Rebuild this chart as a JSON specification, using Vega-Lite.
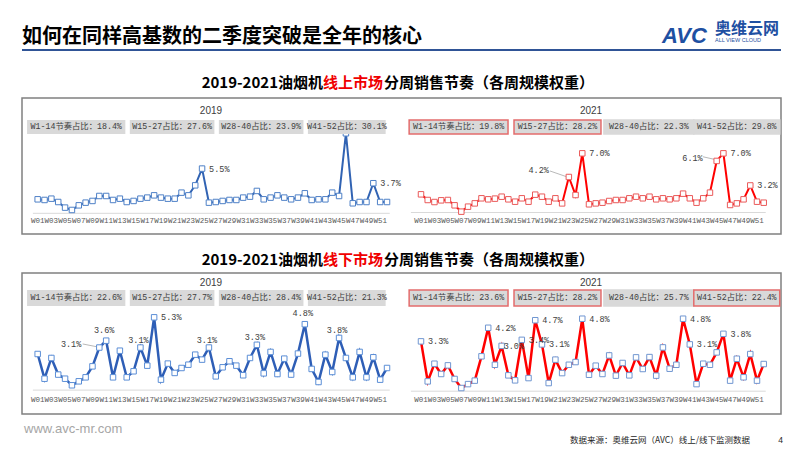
{
 "$schema": "https://vega.github.io/schema/vega-lite/v6.json",
 "padding": {"left": 21, "top": 0, "right": 0, "bottom": 0},
 "background": "white",
 "spacing": 0,
 "config": {"view": {"stroke": null}, "font": "Noto Sans CJK SC", "concat": {"spacing": 0}},
 "datasets": {
  "on19": [{"week":1,"share":1.72},{"week":2,"share":1.64},{"week":3,"share":1.80},{"week":4,"share":1.39},{"week":5,"share":0.70},{"week":6,"share":0.41},{"week":7,"share":0.98},{"week":8,"share":1.31},{"week":9,"share":1.52},{"week":10,"share":2.13},{"week":11,"share":2.13},{"week":12,"share":1.64},{"week":13,"share":1.80},{"week":14,"share":1.39},{"week":15,"share":1.52},{"week":16,"share":1.80},{"week":17,"share":1.93},{"week":18,"share":2.21},{"week":19,"share":1.93},{"week":20,"share":1.80},{"week":21,"share":1.80},{"week":22,"share":2.54},{"week":23,"share":2.21},{"week":24,"share":3.44},{"week":25,"share":5.5},{"week":26,"share":1.31},{"week":27,"share":1.39},{"week":28,"share":1.52},{"week":29,"share":1.64},{"week":30,"share":1.64},{"week":31,"share":1.93},{"week":32,"share":2.05},{"week":33,"share":2.75},{"week":34,"share":1.72},{"week":35,"share":1.93},{"week":36,"share":2.21},{"week":37,"share":1.93},{"week":38,"share":1.72},{"week":39,"share":1.93},{"week":40,"share":2.46},{"week":41,"share":1.64},{"week":42,"share":1.72},{"week":43,"share":1.72},{"week":44,"share":2.54},{"week":45,"share":2.13},{"week":46,"share":9.84},{"week":47,"share":1.23},{"week":48,"share":1.39},{"week":49,"share":1.39},{"week":50,"share":3.7},{"week":51,"share":1.39},{"week":52,"share":1.39}],
  "on21": [{"week":1,"share":2.15},{"week":2,"share":1.48},{"week":3,"share":1.24},{"week":4,"share":1.44},{"week":5,"share":1.48},{"week":6,"share":0.85},{"week":7,"share":0.10},{"week":8,"share":0.69},{"week":9,"share":1.08},{"week":10,"share":1.68},{"week":11,"share":1.56},{"week":12,"share":1.64},{"week":13,"share":1.87},{"week":14,"share":1.56},{"week":15,"share":1.28},{"week":16,"share":1.68},{"week":17,"share":1.28},{"week":18,"share":2.11},{"week":19,"share":1.87},{"week":20,"share":1.28},{"week":21,"share":1.68},{"week":22,"share":1.08},{"week":23,"share":4.2},{"week":24,"share":2.07},{"week":25,"share":7.0},{"week":26,"share":0.97},{"week":27,"share":1.08},{"week":28,"share":1.16},{"week":29,"share":1.36},{"week":30,"share":1.48},{"week":31,"share":1.48},{"week":32,"share":1.68},{"week":33,"share":1.87},{"week":34,"share":1.68},{"week":35,"share":1.87},{"week":36,"share":1.56},{"week":37,"share":1.68},{"week":38,"share":1.56},{"week":39,"share":1.68},{"week":40,"share":2.23},{"week":41,"share":1.68},{"week":42,"share":1.16},{"week":43,"share":1.68},{"week":44,"share":2.35},{"week":45,"share":6.1},{"week":46,"share":7.0},{"week":47,"share":0.89},{"week":48,"share":1.08},{"week":49,"share":1.56},{"week":50,"share":3.2},{"week":51,"share":1.28},{"week":52,"share":1.16}],
  "off19": [{"week":1,"share":2.63},{"week":2,"share":0.83},{"week":3,"share":2.34},{"week":4,"share":1.13},{"week":5,"share":0.83},{"week":6,"share":0.35},{"week":7,"share":0.64},{"week":8,"share":0.93},{"week":9,"share":1.73},{"week":10,"share":3.1},{"week":11,"share":3.6},{"week":12,"share":0.93},{"week":13,"share":2.87},{"week":14,"share":0.93},{"week":15,"share":1.37},{"week":16,"share":3.1},{"week":17,"share":1.78},{"week":18,"share":5.3},{"week":19,"share":0.76},{"week":20,"share":1.93},{"week":21,"share":1.25},{"week":22,"share":1.61},{"week":23,"share":1.85},{"week":24,"share":2.58},{"week":25,"share":2.22},{"week":26,"share":3.1},{"week":27,"share":1.0},{"week":28,"share":1.66},{"week":29,"share":2.1},{"week":30,"share":1.78},{"week":31,"share":1.08},{"week":32,"share":2.34},{"week":33,"share":3.3},{"week":34,"share":1.22},{"week":35,"share":2.78},{"week":36,"share":1.17},{"week":37,"share":2.29},{"week":38,"share":1.13},{"week":39,"share":2.66},{"week":40,"share":4.8},{"week":41,"share":1.54},{"week":42,"share":0.59},{"week":43,"share":2.58},{"week":44,"share":1.32},{"week":45,"share":3.8},{"week":46,"share":2.34},{"week":47,"share":0.93},{"week":48,"share":2.78},{"week":49,"share":0.93},{"week":50,"share":2.39},{"week":51,"share":0.76},{"week":52,"share":1.61}],
  "off21": [{"week":1,"share":3.3},{"week":2,"share":0.65},{"week":3,"share":1.82},{"week":4,"share":1.14},{"week":5,"share":1.71},{"week":6,"share":0.81},{"week":7,"share":0.21},{"week":8,"share":0.47},{"week":9,"share":0.70},{"week":10,"share":2.31},{"week":11,"share":4.2},{"week":12,"share":1.75},{"week":13,"share":3.0},{"week":14,"share":1.05},{"week":15,"share":0.72},{"week":16,"share":3.4},{"week":17,"share":0.87},{"week":18,"share":4.7},{"week":19,"share":3.1},{"week":20,"share":0.54},{"week":21,"share":2.09},{"week":22,"share":1.2},{"week":23,"share":1.75},{"week":24,"share":1.93},{"week":25,"share":4.8},{"week":26,"share":1.09},{"week":27,"share":1.69},{"week":28,"share":1.14},{"week":29,"share":2.37},{"week":30,"share":1.03},{"week":31,"share":1.87},{"week":32,"share":1.05},{"week":33,"share":2.24},{"week":34,"share":1.47},{"week":35,"share":2.26},{"week":36,"share":1.03},{"week":37,"share":2.90},{"week":38,"share":1.49},{"week":39,"share":1.75},{"week":40,"share":4.8},{"week":41,"share":3.1},{"week":42,"share":0.47},{"week":43,"share":1.82},{"week":44,"share":1.75},{"week":45,"share":2.57},{"week":46,"share":3.8},{"week":47,"share":0.70},{"week":48,"share":2.15},{"week":49,"share":0.92},{"week":50,"share":2.46},{"week":51,"share":0.70},{"week":52,"share":1.80}],
  "sumOn": [{"name":"W1-14节奏占比","start":1,"end":14,"y2019":18.4,"y2021":19.8},{"name":"W15-27占比","start":15,"end":27,"y2019":27.6,"y2021":28.2},{"name":"W28-40占比","start":28,"end":40,"y2019":23.9,"y2021":22.3},{"name":"W41-52占比","start":41,"end":52,"y2019":30.1,"y2021":29.8}],
  "sumOff": [{"name":"W1-14节奏占比","start":1,"end":14,"y2019":22.6,"y2021":23.6},{"name":"W15-27占比","start":15,"end":27,"y2019":27.7,"y2021":28.2},{"name":"W28-40占比","start":28,"end":40,"y2019":28.4,"y2021":25.7},{"name":"W41-52占比","start":41,"end":52,"y2019":21.3,"y2021":22.4}]
 },
 "vconcat": [
  {"spacing": 0, "hconcat": [
   {"width": 640, "height": 49, "data": {"values": []}, "mark": "text", "encoding": {},
    "title": {"text": "如何在同样高基数的二季度突破是全年的核心", "anchor": "start", "frame": "group", "offset": -46.6, "baseline": "top", "fontSize": 20, "fontWeight": "bold", "color": "#000000", "font": "Noto Sans CJK SC"}},
   {"width": 48, "height": 49, "data": {"values": []}, "mark": "text", "encoding": {},
    "title": {"text": "AVC", "anchor": "start", "frame": "group", "offset": -47.5, "baseline": "top", "dx": -3, "fontSize": 22, "fontWeight": 900, "fontStyle": "italic", "color": "#1E50A2", "font": "Liberation Sans"}},
   {"width": 73, "height": 49, "data": {"values": []}, "mark": "text", "encoding": {},
    "title": {"text": "奥维云网", "subtitle": "\u00a0\u00a0\u00a0\u00a0\u00a0\u00a0\u00a0\u00a0\u00a0\u00a0ALL VIEW CLOUD", "anchor": "start", "frame": "group", "offset": -43.8, "baseline": "top", "dx": 2, "fontSize": 16, "fontWeight": "bold", "color": "#1E50A2", "font": "Noto Sans CJK SC",
     "subtitleFont": "Liberation Sans", "subtitleFontSize": 5.5, "subtitleColor": "#1E50A2", "subtitlePadding": 1}}
  ]},
  {"width": 759, "height": 2,
   "layer": [
    {"data": {"name": "sumOn"}, "transform": [{"filter": "datum.start == 1"}],
     "mark": {"type": "rule", "color": "#2F5496", "strokeWidth": 2},
     "encoding": {"x": {"datum": 0, "type": "quantitative", "scale": {"domain": [0, 1], "nice": false, "zero": false}, "axis": null}, "x2": {"datum": 1},
      "y": {"datum": 0.5, "type": "quantitative", "scale": {"domain": [0, 1], "nice": false, "zero": false}, "axis": null}}}
   ]},
  {"spacing": 0, "hconcat": [
   {"width": 301, "height": 46, "data": {"values": []}, "mark": "text", "encoding": {},
    "title": {"text": "2019-2021油烟机", "anchor": "end", "frame": "group", "offset": -39.7, "baseline": "top", "fontSize": 15, "fontWeight": "bold", "color": "#000000", "font": "Noto Sans CJK SC"}},
   {"width": 60, "height": 46, "data": {"values": []}, "mark": "text", "encoding": {},
    "title": {"text": "线上市场", "anchor": "start", "frame": "group", "offset": -39.7, "baseline": "top", "fontSize": 15, "fontWeight": "bold", "color": "#F00000", "font": "Noto Sans CJK SC"}},
   {"width": 398, "height": 46, "data": {"values": []}, "mark": "text", "encoding": {},
    "title": {"text": "分周销售节奏（各周规模权重）", "anchor": "start", "frame": "group", "offset": -39.7, "baseline": "top", "fontSize": 15, "fontWeight": "bold", "color": "#000000", "font": "Noto Sans CJK SC"}}
  ]},
  {"width": 759, "height": 136, "view": {"stroke": "#808080", "strokeWidth": 1.5},
   "resolve": {"scale": {"x": "independent", "y": "independent"}},
   "layer": [
    {"data": {"name": "on19"}, "transform": [{"filter": "datum.week == 1"}], "mark": {"type": "rule", "color": "#D9D9D9", "strokeWidth": 1},
     "encoding": {"x": {"datum": 0.3, "type": "quantitative", "scale": {"domain": [-1.288, 109.515], "nice": false, "zero": false}, "axis": null}, "x2": {"datum": 52.4},
      "y": {"datum": 0, "type": "quantitative", "scale": {"domain": [-2.546, 14.182], "nice": false, "zero": false}, "axis": null}}},
    {"data": {"name": "on19"}, "mark": {"type": "line", "color": "#3163B3", "strokeWidth": 2},
     "encoding": {"x": {"field": "week", "type": "quantitative", "scale": {"domain": [-1.288, 109.515], "nice": false, "zero": false}, "axis": null},
      "y": {"field": "share", "type": "quantitative", "scale": {"domain": [-2.546, 14.182], "nice": false, "zero": false}, "axis": null}}},
    {"data": {"name": "on19"}, "mark": {"type": "point", "shape": "square", "filled": true, "fill": "#FFFFFF", "stroke": "#4F81C7", "strokeWidth": 1, "size": 30, "opacity": 1},
     "encoding": {"x": {"field": "week", "type": "quantitative", "scale": {"domain": [-1.288, 109.515], "nice": false, "zero": false}, "axis": null},
      "y": {"field": "share", "type": "quantitative", "scale": {"domain": [-2.546, 14.182], "nice": false, "zero": false}, "axis": null}}},
    {"data": {"name": "on19"}, "transform": [{"filter": {"field": "week", "oneOf": [25, 50]}}, {"calculate": "format(datum.share, '.1f') + '%'", "as": "lab"}],
     "mark": {"type": "text", "align": "left", "dx": 7, "font": "Liberation Mono", "fontSize": 8.5, "color": "#404040"},
     "encoding": {"x": {"field": "week", "type": "quantitative", "scale": {"domain": [-1.288, 109.515], "nice": false, "zero": false}, "axis": null},
      "y": {"field": "share", "type": "quantitative", "scale": {"domain": [-2.546, 14.182], "nice": false, "zero": false}, "axis": null}, "text": {"field": "lab"}}},
    {"data": {"name": "on19"}, "transform": [{"filter": "datum.week % 2 == 1"}, {"calculate": "'W' + (datum.week < 10 ? '0' : '') + datum.week", "as": "wl"}],
     "mark": {"type": "text", "font": "Liberation Mono", "fontSize": 7.5, "color": "#595959"},
     "encoding": {"x": {"field": "week", "type": "quantitative", "scale": {"domain": [-1.288, 109.515], "nice": false, "zero": false}, "axis": null},
      "y": {"datum": -0.95, "type": "quantitative", "scale": {"domain": [-2.546, 14.182], "nice": false, "zero": false}, "axis": null}, "text": {"field": "wl"}}},
    {"data": {"name": "on19"}, "transform": [{"filter": "datum.week == 1"}], "mark": {"type": "text", "fontSize": 10, "font": "Liberation Sans", "color": "#404040"},
     "encoding": {"x": {"datum": 26.3, "type": "quantitative", "scale": {"domain": [-1.288, 109.515], "nice": false, "zero": false}, "axis": null},
      "y": {"datum": 12.58, "type": "quantitative", "scale": {"domain": [-2.546, 14.182], "nice": false, "zero": false}, "axis": null}, "text": {"value": "2019"}}},
    {"data": {"name": "sumOn"},
     "transform": [{"calculate": "datum.start - 0.55 - (datum.start == 1 ? 1 : 0)", "as": "x0"}, {"calculate": "datum.end - 0.2", "as": "x1"}],
     "mark": {"type": "rect", "fill": "#D9D9D9"},
     "encoding": {"x": {"field": "x0", "type": "quantitative", "scale": {"domain": [-1.288, 109.515], "nice": false, "zero": false}, "axis": null}, "x2": {"field": "x1"},
      "y": {"datum": 11.48, "type": "quantitative", "scale": {"domain": [-2.546, 14.182], "nice": false, "zero": false}, "axis": null}, "y2": {"datum": 9.74}}},
    {"data": {"name": "sumOn"},
     "transform": [{"calculate": "(datum.start - 0.55 - (datum.start == 1 ? 1 : 0) + datum.end - 0.2) / 2", "as": "xm"}, {"calculate": "datum.name + '：' + format(datum.y2019, '.1f') + '%'", "as": "txt"}],
     "mark": {"type": "text", "fontSize": 8.3, "color": "#404040", "font": "Liberation Mono, Noto Sans CJK SC"},
     "encoding": {"x": {"field": "xm", "type": "quantitative", "scale": {"domain": [-1.288, 109.515], "nice": false, "zero": false}, "axis": null},
      "y": {"datum": 10.6, "type": "quantitative", "scale": {"domain": [-2.546, 14.182], "nice": false, "zero": false}, "axis": null}, "text": {"field": "txt"}}},

    {"data": {"name": "on21"}, "transform": [{"filter": "datum.week == 1"}], "mark": {"type": "rule", "color": "#D9D9D9", "strokeWidth": 1},
     "encoding": {"x": {"datum": -0.5, "type": "quantitative", "scale": {"domain": [-58.375, 54.571], "nice": false, "zero": false}, "axis": null}, "x2": {"datum": 52.3},
      "y": {"datum": 0, "type": "quantitative", "scale": {"domain": [-2.543, 13.546], "nice": false, "zero": false}, "axis": null}}},
    {"data": {"name": "on21"}, "transform": [{"filter": "datum.week == 23"}], "mark": {"type": "rule", "color": "#A6A6A6", "strokeWidth": 0.8},
     "encoding": {"x": {"datum": 20.2, "type": "quantitative", "scale": {"domain": [-58.375, 54.571], "nice": false, "zero": false}, "axis": null}, "x2": {"datum": 22.6},
      "y": {"datum": 4.91, "type": "quantitative", "scale": {"domain": [-2.543, 13.546], "nice": false, "zero": false}, "axis": null}, "y2": {"datum": 4.25}}},
    {"data": {"name": "on21"}, "transform": [{"filter": "datum.week == 45"}], "mark": {"type": "rule", "color": "#A6A6A6", "strokeWidth": 0.8},
     "encoding": {"x": {"datum": 42.92, "type": "quantitative", "scale": {"domain": [-58.375, 54.571], "nice": false, "zero": false}, "axis": null}, "x2": {"datum": 44.6},
      "y": {"datum": 6.6, "type": "quantitative", "scale": {"domain": [-2.543, 13.546], "nice": false, "zero": false}, "axis": null}, "y2": {"datum": 6.3}}},
    {"data": {"name": "on21"}, "mark": {"type": "line", "color": "#FF0000", "strokeWidth": 2},
     "encoding": {"x": {"field": "week", "type": "quantitative", "scale": {"domain": [-58.375, 54.571], "nice": false, "zero": false}, "axis": null},
      "y": {"field": "share", "type": "quantitative", "scale": {"domain": [-2.543, 13.546], "nice": false, "zero": false}, "axis": null}}},
    {"data": {"name": "on21"}, "mark": {"type": "point", "shape": "square", "filled": true, "fill": "#FFFFFF", "stroke": "#EA5A5A", "strokeWidth": 1, "size": 30, "opacity": 1},
     "encoding": {"x": {"field": "week", "type": "quantitative", "scale": {"domain": [-58.375, 54.571], "nice": false, "zero": false}, "axis": null},
      "y": {"field": "share", "type": "quantitative", "scale": {"domain": [-2.543, 13.546], "nice": false, "zero": false}, "axis": null}}},
    {"data": {"name": "on21"}, "transform": [{"filter": {"field": "week", "oneOf": [25, 46, 50]}}, {"calculate": "format(datum.share, '.1f') + '%'", "as": "lab"}],
     "mark": {"type": "text", "align": "left", "dx": 7, "font": "Liberation Mono", "fontSize": 8.5, "color": "#404040"},
     "encoding": {"x": {"field": "week", "type": "quantitative", "scale": {"domain": [-58.375, 54.571], "nice": false, "zero": false}, "axis": null},
      "y": {"field": "share", "type": "quantitative", "scale": {"domain": [-2.543, 13.546], "nice": false, "zero": false}, "axis": null}, "text": {"field": "lab"}}},
    {"data": {"name": "on21"}, "transform": [{"filter": {"field": "week", "oneOf": [23]}}, {"calculate": "format(datum.share, '.1f') + '%'", "as": "lab"}],
     "mark": {"type": "text", "align": "right", "dx": -20, "dy": -7, "font": "Liberation Mono", "fontSize": 8.5, "color": "#404040"},
     "encoding": {"x": {"field": "week", "type": "quantitative", "scale": {"domain": [-58.375, 54.571], "nice": false, "zero": false}, "axis": null},
      "y": {"field": "share", "type": "quantitative", "scale": {"domain": [-2.543, 13.546], "nice": false, "zero": false}, "axis": null}, "text": {"field": "lab"}}},
    {"data": {"name": "on21"}, "transform": [{"filter": {"field": "week", "oneOf": [45]}}, {"calculate": "format(datum.share, '.1f') + '%'", "as": "lab"}],
     "mark": {"type": "text", "align": "right", "dx": -14, "dy": -3, "font": "Liberation Mono", "fontSize": 8.5, "color": "#404040"},
     "encoding": {"x": {"field": "week", "type": "quantitative", "scale": {"domain": [-58.375, 54.571], "nice": false, "zero": false}, "axis": null},
      "y": {"field": "share", "type": "quantitative", "scale": {"domain": [-2.543, 13.546], "nice": false, "zero": false}, "axis": null}, "text": {"field": "lab"}}},
    {"data": {"name": "on21"}, "transform": [{"filter": "datum.week % 2 == 1"}, {"calculate": "'W' + (datum.week < 10 ? '0' : '') + datum.week", "as": "wl"}],
     "mark": {"type": "text", "font": "Liberation Mono", "fontSize": 7.5, "color": "#595959"},
     "encoding": {"x": {"field": "week", "type": "quantitative", "scale": {"domain": [-58.375, 54.571], "nice": false, "zero": false}, "axis": null},
      "y": {"datum": -1.0, "type": "quantitative", "scale": {"domain": [-2.543, 13.546], "nice": false, "zero": false}, "axis": null}, "text": {"field": "wl"}}},
    {"data": {"name": "on21"}, "transform": [{"filter": "datum.week == 1"}], "mark": {"type": "text", "fontSize": 10, "font": "Liberation Sans", "color": "#404040"},
     "encoding": {"x": {"datum": 26.3, "type": "quantitative", "scale": {"domain": [-58.375, 54.571], "nice": false, "zero": false}, "axis": null},
      "y": {"datum": 12.01, "type": "quantitative", "scale": {"domain": [-2.543, 13.546], "nice": false, "zero": false}, "axis": null}, "text": {"value": "2021"}}},
    {"data": {"name": "sumOn"},
     "transform": [{"calculate": "14.84 + 1.029 * (datum.start - 15) - (datum.start == 1 ? 1.2 : 0)", "as": "x0"}, {"calculate": "13.95 + 1.064 * (datum.end - 14)", "as": "x1"}],
     "mark": {"type": "rect", "fill": "#D9D9D9", "strokeWidth": 1.5},
     "encoding": {"x": {"field": "x0", "type": "quantitative", "scale": {"domain": [-58.375, 54.571], "nice": false, "zero": false}, "axis": null}, "x2": {"field": "x1"},
      "y": {"datum": 10.94, "type": "quantitative", "scale": {"domain": [-2.543, 13.546], "nice": false, "zero": false}, "axis": null}, "y2": {"datum": 9.29},
      "stroke": {"condition": {"test": "datum.y2021 > datum.y2019", "value": "#E36C6C"}, "value": "#D9D9D9"}}},
    {"data": {"name": "sumOn"},
     "transform": [{"calculate": "(14.84 + 1.029 * (datum.start - 15) - (datum.start == 1 ? 1.2 : 0) + 13.95 + 1.064 * (datum.end - 14)) / 2", "as": "xm"}, {"calculate": "datum.name + '：' + format(datum.y2021, '.1f') + '%'", "as": "txt"}],
     "mark": {"type": "text", "fontSize": 8.3, "color": "#404040", "font": "Liberation Mono, Noto Sans CJK SC"},
     "encoding": {"x": {"field": "xm", "type": "quantitative", "scale": {"domain": [-58.375, 54.571], "nice": false, "zero": false}, "axis": null},
      "y": {"datum": 10.11, "type": "quantitative", "scale": {"domain": [-2.543, 13.546], "nice": false, "zero": false}, "axis": null}, "text": {"field": "txt"}}}
   ]},
  {"spacing": 0, "hconcat": [
   {"width": 301, "height": 37, "data": {"values": []}, "mark": "text", "encoding": {},
    "title": {"text": "2019-2021油烟机", "anchor": "end", "frame": "group", "offset": -32.7, "baseline": "top", "fontSize": 15, "fontWeight": "bold", "color": "#000000", "font": "Noto Sans CJK SC"}},
   {"width": 60, "height": 37, "data": {"values": []}, "mark": "text", "encoding": {},
    "title": {"text": "线下市场", "anchor": "start", "frame": "group", "offset": -32.7, "baseline": "top", "fontSize": 15, "fontWeight": "bold", "color": "#F00000", "font": "Noto Sans CJK SC"}},
   {"width": 398, "height": 37, "data": {"values": []}, "mark": "text", "encoding": {},
    "title": {"text": "分周销售节奏（各周规模权重）", "anchor": "start", "frame": "group", "offset": -32.7, "baseline": "top", "fontSize": 15, "fontWeight": "bold", "color": "#000000", "font": "Noto Sans CJK SC"}}
  ]},
  {"width": 759, "height": 141, "view": {"stroke": "#808080", "strokeWidth": 1.5},
   "resolve": {"scale": {"x": "independent", "y": "independent"}},
   "layer": [
    {"data": {"name": "off19"}, "transform": [{"filter": "datum.week == 1"}], "mark": {"type": "rule", "color": "#D9D9D9", "strokeWidth": 1},
     "encoding": {"x": {"datum": 0.3, "type": "quantitative", "scale": {"domain": [-1.288, 109.515], "nice": false, "zero": false}, "axis": null}, "x2": {"datum": 52.4},
      "y": {"datum": 0, "type": "quantitative", "scale": {"domain": [-1.741, 8.529], "nice": false, "zero": false}, "axis": null}}},
    {"data": {"name": "off19"}, "transform": [{"filter": "datum.week == 10"}], "mark": {"type": "rule", "color": "#A6A6A6", "strokeWidth": 0.8},
     "encoding": {"x": {"datum": 7.57, "type": "quantitative", "scale": {"domain": [-1.288, 109.515], "nice": false, "zero": false}, "axis": null}, "x2": {"datum": 9.6},
      "y": {"datum": 3.36, "type": "quantitative", "scale": {"domain": [-1.741, 8.529], "nice": false, "zero": false}, "axis": null}, "y2": {"datum": 3.16}}},
    {"data": {"name": "off19"}, "mark": {"type": "line", "color": "#2E5EB6", "strokeWidth": 2.5},
     "encoding": {"x": {"field": "week", "type": "quantitative", "scale": {"domain": [-1.288, 109.515], "nice": false, "zero": false}, "axis": null},
      "y": {"field": "share", "type": "quantitative", "scale": {"domain": [-1.741, 8.529], "nice": false, "zero": false}, "axis": null}}},
    {"data": {"name": "off19"}, "mark": {"type": "point", "shape": "square", "filled": true, "fill": "#FFFFFF", "stroke": "#5B8ED6", "strokeWidth": 1, "size": 30, "opacity": 1},
     "encoding": {"x": {"field": "week", "type": "quantitative", "scale": {"domain": [-1.288, 109.515], "nice": false, "zero": false}, "axis": null},
      "y": {"field": "share", "type": "quantitative", "scale": {"domain": [-1.741, 8.529], "nice": false, "zero": false}, "axis": null}}},
    {"data": {"name": "off19"}, "transform": [{"filter": {"field": "week", "oneOf": [18]}}, {"calculate": "format(datum.share, '.1f') + '%'", "as": "lab"}],
     "mark": {"type": "text", "align": "left", "dx": 7, "font": "Liberation Mono", "fontSize": 8.5, "color": "#404040"},
     "encoding": {"x": {"field": "week", "type": "quantitative", "scale": {"domain": [-1.288, 109.515], "nice": false, "zero": false}, "axis": null},
      "y": {"field": "share", "type": "quantitative", "scale": {"domain": [-1.741, 8.529], "nice": false, "zero": false}, "axis": null}, "text": {"field": "lab"}}},
    {"data": {"name": "off19"}, "transform": [{"filter": {"field": "week", "oneOf": [11, 40]}}, {"calculate": "format(datum.share, '.1f') + '%'", "as": "lab"}],
     "mark": {"type": "text", "align": "center", "dx": -2, "dy": -11, "font": "Liberation Mono", "fontSize": 8.5, "color": "#404040"},
     "encoding": {"x": {"field": "week", "type": "quantitative", "scale": {"domain": [-1.288, 109.515], "nice": false, "zero": false}, "axis": null},
      "y": {"field": "share", "type": "quantitative", "scale": {"domain": [-1.741, 8.529], "nice": false, "zero": false}, "axis": null}, "text": {"field": "lab"}}},
    {"data": {"name": "off19"}, "transform": [{"filter": {"field": "week", "oneOf": [16, 26, 33, 45]}}, {"calculate": "format(datum.share, '.1f') + '%'", "as": "lab"}],
     "mark": {"type": "text", "align": "center", "dx": -2, "dy": -8, "font": "Liberation Mono", "fontSize": 8.5, "color": "#404040"},
     "encoding": {"x": {"field": "week", "type": "quantitative", "scale": {"domain": [-1.288, 109.515], "nice": false, "zero": false}, "axis": null},
      "y": {"field": "share", "type": "quantitative", "scale": {"domain": [-1.741, 8.529], "nice": false, "zero": false}, "axis": null}, "text": {"field": "lab"}}},
    {"data": {"name": "off19"}, "transform": [{"filter": {"field": "week", "oneOf": [10]}}, {"calculate": "format(datum.share, '.1f') + '%'", "as": "lab"}],
     "mark": {"type": "text", "align": "right", "dx": -18, "dy": -4, "font": "Liberation Mono", "fontSize": 8.5, "color": "#404040"},
     "encoding": {"x": {"field": "week", "type": "quantitative", "scale": {"domain": [-1.288, 109.515], "nice": false, "zero": false}, "axis": null},
      "y": {"field": "share", "type": "quantitative", "scale": {"domain": [-1.741, 8.529], "nice": false, "zero": false}, "axis": null}, "text": {"field": "lab"}}},
    {"data": {"name": "off19"}, "transform": [{"filter": "datum.week % 2 == 1"}, {"calculate": "'W' + (datum.week < 10 ? '0' : '') + datum.week", "as": "wl"}],
     "mark": {"type": "text", "font": "Liberation Mono", "fontSize": 7.5, "color": "#595959"},
     "encoding": {"x": {"field": "week", "type": "quantitative", "scale": {"domain": [-1.288, 109.515], "nice": false, "zero": false}, "axis": null},
      "y": {"datum": -0.70, "type": "quantitative", "scale": {"domain": [-1.741, 8.529], "nice": false, "zero": false}, "axis": null}, "text": {"field": "wl"}}},
    {"data": {"name": "off19"}, "transform": [{"filter": "datum.week == 1"}], "mark": {"type": "text", "fontSize": 10, "font": "Liberation Sans", "color": "#404040"},
     "encoding": {"x": {"datum": 26.3, "type": "quantitative", "scale": {"domain": [-1.288, 109.515], "nice": false, "zero": false}, "axis": null},
      "y": {"datum": 7.80, "type": "quantitative", "scale": {"domain": [-1.741, 8.529], "nice": false, "zero": false}, "axis": null}, "text": {"value": "2019"}}},
    {"data": {"name": "sumOff"},
     "transform": [{"calculate": "datum.start - 0.55 - (datum.start == 1 ? 1 : 0)", "as": "x0"}, {"calculate": "datum.end - 0.2", "as": "x1"}],
     "mark": {"type": "rect", "fill": "#D9D9D9"},
     "encoding": {"x": {"field": "x0", "type": "quantitative", "scale": {"domain": [-1.288, 109.515], "nice": false, "zero": false}, "axis": null}, "x2": {"field": "x1"},
      "y": {"datum": 7.29, "type": "quantitative", "scale": {"domain": [-1.741, 8.529], "nice": false, "zero": false}, "axis": null}, "y2": {"datum": 6.12}}},
    {"data": {"name": "sumOff"},
     "transform": [{"calculate": "(datum.start - 0.55 - (datum.start == 1 ? 1 : 0) + datum.end - 0.2) / 2", "as": "xm"}, {"calculate": "datum.name + '：' + format(datum.y2019, '.1f') + '%'", "as": "txt"}],
     "mark": {"type": "text", "fontSize": 8.3, "color": "#404040", "font": "Liberation Mono, Noto Sans CJK SC"},
     "encoding": {"x": {"field": "xm", "type": "quantitative", "scale": {"domain": [-1.288, 109.515], "nice": false, "zero": false}, "axis": null},
      "y": {"datum": 6.71, "type": "quantitative", "scale": {"domain": [-1.741, 8.529], "nice": false, "zero": false}, "axis": null}, "text": {"field": "txt"}}},

    {"data": {"name": "off21"}, "transform": [{"filter": "datum.week == 1"}], "mark": {"type": "rule", "color": "#D9D9D9", "strokeWidth": 1},
     "encoding": {"x": {"datum": -0.5, "type": "quantitative", "scale": {"domain": [-58.375, 54.571], "nice": false, "zero": false}, "axis": null}, "x2": {"datum": 52.3},
      "y": {"datum": 0, "type": "quantitative", "scale": {"domain": [-1.510, 7.828], "nice": false, "zero": false}, "axis": null}}},
    {"data": {"name": "off21"}, "mark": {"type": "line", "color": "#FF0000", "strokeWidth": 2.5},
     "encoding": {"x": {"field": "week", "type": "quantitative", "scale": {"domain": [-58.375, 54.571], "nice": false, "zero": false}, "axis": null},
      "y": {"field": "share", "type": "quantitative", "scale": {"domain": [-1.510, 7.828], "nice": false, "zero": false}, "axis": null}}},
    {"data": {"name": "off21"}, "mark": {"type": "point", "shape": "square", "filled": true, "fill": "#FFFFFF", "stroke": "#7096D1", "strokeWidth": 1, "size": 30, "opacity": 1},
     "encoding": {"x": {"field": "week", "type": "quantitative", "scale": {"domain": [-58.375, 54.571], "nice": false, "zero": false}, "axis": null},
      "y": {"field": "share", "type": "quantitative", "scale": {"domain": [-1.510, 7.828], "nice": false, "zero": false}, "axis": null}}},
    {"data": {"name": "off21"}, "transform": [{"filter": {"field": "week", "oneOf": [1, 11, 16, 18, 19, 25, 40, 41, 46]}}, {"calculate": "format(datum.share, '.1f') + '%'", "as": "lab"}],
     "mark": {"type": "text", "align": "left", "dx": 7, "font": "Liberation Mono", "fontSize": 8.5, "color": "#404040"},
     "encoding": {"x": {"field": "week", "type": "quantitative", "scale": {"domain": [-58.375, 54.571], "nice": false, "zero": false}, "axis": null},
      "y": {"field": "share", "type": "quantitative", "scale": {"domain": [-1.510, 7.828], "nice": false, "zero": false}, "axis": null}, "text": {"field": "lab"}}},
    {"data": {"name": "off21"}, "transform": [{"filter": {"field": "week", "oneOf": [13]}}, {"calculate": "format(datum.share, '.1f') + '%'", "as": "lab"}],
     "mark": {"type": "text", "align": "left", "dx": 2, "font": "Liberation Mono", "fontSize": 8.5, "color": "#404040"},
     "encoding": {"x": {"field": "week", "type": "quantitative", "scale": {"domain": [-58.375, 54.571], "nice": false, "zero": false}, "axis": null},
      "y": {"field": "share", "type": "quantitative", "scale": {"domain": [-1.510, 7.828], "nice": false, "zero": false}, "axis": null}, "text": {"field": "lab"}}},
    {"data": {"name": "off21"}, "transform": [{"filter": "datum.week % 2 == 1"}, {"calculate": "'W' + (datum.week < 10 ? '0' : '') + datum.week", "as": "wl"}],
     "mark": {"type": "text", "font": "Liberation Mono", "fontSize": 7.5, "color": "#595959"},
     "encoding": {"x": {"field": "week", "type": "quantitative", "scale": {"domain": [-58.375, 54.571], "nice": false, "zero": false}, "axis": null},
      "y": {"datum": -0.56, "type": "quantitative", "scale": {"domain": [-1.510, 7.828], "nice": false, "zero": false}, "axis": null}, "text": {"field": "wl"}}},
    {"data": {"name": "off21"}, "transform": [{"filter": "datum.week == 1"}], "mark": {"type": "text", "fontSize": 10, "font": "Liberation Sans", "color": "#404040"},
     "encoding": {"x": {"datum": 26.3, "type": "quantitative", "scale": {"domain": [-58.375, 54.571], "nice": false, "zero": false}, "axis": null},
      "y": {"datum": 7.17, "type": "quantitative", "scale": {"domain": [-1.510, 7.828], "nice": false, "zero": false}, "axis": null}, "text": {"value": "2021"}}},
    {"data": {"name": "sumOff"},
     "transform": [{"calculate": "14.84 + 1.029 * (datum.start - 15) - (datum.start == 1 ? 1.2 : 0)", "as": "x0"}, {"calculate": "13.95 + 1.064 * (datum.end - 14)", "as": "x1"}],
     "mark": {"type": "rect", "fill": "#D9D9D9", "strokeWidth": 1.5},
     "encoding": {"x": {"field": "x0", "type": "quantitative", "scale": {"domain": [-58.375, 54.571], "nice": false, "zero": false}, "axis": null}, "x2": {"field": "x1"},
      "y": {"datum": 6.70, "type": "quantitative", "scale": {"domain": [-1.510, 7.828], "nice": false, "zero": false}, "axis": null}, "y2": {"datum": 5.64},
      "stroke": {"condition": {"test": "datum.y2021 > datum.y2019", "value": "#E36C6C"}, "value": "#D9D9D9"}}},
    {"data": {"name": "sumOff"},
     "transform": [{"calculate": "(14.84 + 1.029 * (datum.start - 15) - (datum.start == 1 ? 1.2 : 0) + 13.95 + 1.064 * (datum.end - 14)) / 2", "as": "xm"}, {"calculate": "datum.name + '：' + format(datum.y2021, '.1f') + '%'", "as": "txt"}],
     "mark": {"type": "text", "fontSize": 8.3, "color": "#404040", "font": "Liberation Mono, Noto Sans CJK SC"},
     "encoding": {"x": {"field": "xm", "type": "quantitative", "scale": {"domain": [-58.375, 54.571], "nice": false, "zero": false}, "axis": null},
      "y": {"datum": 6.17, "type": "quantitative", "scale": {"domain": [-1.510, 7.828], "nice": false, "zero": false}, "axis": null}, "text": {"field": "txt"}}}
   ]},
  {"spacing": 0, "hconcat": [
   {"width": 380, "height": 40, "data": {"values": []}, "mark": "text", "encoding": {},
    "title": {"text": "www.avc-mr.com", "anchor": "start", "frame": "group", "offset": -21.1, "baseline": "top", "dx": 2, "fontSize": 13, "fontWeight": "normal", "color": "#A6A6A6", "font": "Liberation Sans"}},
   {"width": 348, "height": 40, "data": {"values": []}, "mark": "text", "encoding": {},
    "title": {"text": "数据来源：奥维云网（AVC）线上/线下监测数据", "anchor": "end", "frame": "group", "offset": -29.4, "baseline": "top", "fontSize": 8.5, "fontWeight": "normal", "color": "#262626", "font": "Noto Sans CJK SC"}},
   {"width": 33, "height": 40, "data": {"values": []}, "mark": "text", "encoding": {},
    "title": {"text": "4", "anchor": "end", "frame": "group", "offset": -29.3, "baseline": "top", "fontSize": 8.5, "fontWeight": "normal", "color": "#262626", "font": "Liberation Sans"}}
  ]}
 ]
}
